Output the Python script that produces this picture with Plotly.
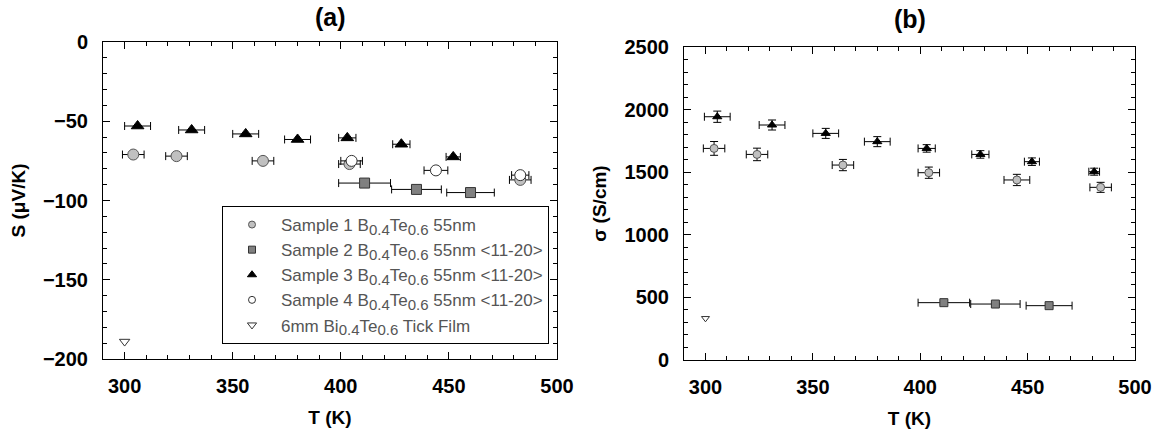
import plotly.graph_objects as go

# ---------- data: panel (a) Seebeck coefficient ----------
a1_T = [304, 324, 364, 404, 483]
a1_S = [-71, -72, -75, -77, -87]
a1_Terr = [5, 5, 5, 5, 5]

a2_T = [411, 435, 460]
a2_S = [-89, -93, -95]
a2_Terr = [12, 11.5, 11]

a3_T = [306, 331, 356, 380, 403, 428, 452]
a3_S = [-53, -55.5, -58, -61.5, -60.5, -64.5, -72.5]
a3_Terr = [6, 6, 6, 6, 4, 4, 3.3]

a4_T = [405, 444, 483]
a4_S = [-75, -81, -84]
a4_Terr = [5, 5.5, 4]

a5_T = [300]
a5_S = [-189]

# ---------- data: panel (b) electrical conductivity ----------
b1_T = [304, 324, 364, 404, 445, 484]
b1_sig = [1690, 1642, 1557, 1496, 1438, 1379]
b1_Terr = [5, 5, 5, 5, 6, 5]
b1_err = [55, 50, 45, 45, 45, 40]

b2_T = [411, 435, 460]
b2_sig = [458, 447, 434]
b2_Terr = [12, 11.5, 10.7]
b2_err = [15, 15, 15]

b3_T = [305.5, 331, 356, 380, 403, 428, 452, 481]
b3_sig = [1943, 1877, 1810, 1744, 1690, 1642, 1584, 1504]
b3_Terr = [6, 6, 6, 6, 4, 4, 3.5, 2.5]
b3_err = [45, 40, 40, 40, 30, 30, 30, 28]

b5_T = [300]
b5_sig = [333]

S = '<sub><span style="font-size:15px">'
E = '</span></sub>'
names = [
    f"Sample 1 B{S}0.4{E}Te{S}0.6{E} 55nm",
    f"Sample 2 B{S}0.4{E}Te{S}0.6{E} 55nm &lt;11-20&gt;",
    f"Sample 3 B{S}0.4{E}Te{S}0.6{E} 55nm &lt;11-20&gt;",
    f"Sample 4 B{S}0.4{E}Te{S}0.6{E} 55nm &lt;11-20&gt;",
    f"6mm Bi{S}0.4{E}Te{S}0.6{E} Tick Film",
]

def ex(arr):
    return dict(type="data", array=arr, visible=True, color="black", thickness=1, width=4)

def ey(arr):
    return dict(type="data", array=arr, visible=True, color="black", thickness=1, width=4)

m1 = dict(symbol="circle", color="#c0c0c0", line=dict(color="#555555", width=1))
m2 = dict(symbol="square", color="#808080", line=dict(color="#333333", width=1))
m3 = dict(symbol="triangle-up", color="black", line=dict(color="black", width=1))
m4 = dict(symbol="circle", color="white", line=dict(color="#333333", width=1))
m5 = dict(symbol="triangle-down-open", color="#333333", line=dict(width=1))

fig = go.Figure()

# panel (a)
fig.add_trace(go.Scatter(x=a1_T, y=a1_S, mode="markers", showlegend=False, error_x=ex(a1_Terr),
                         marker=dict(size=11, **m1), xaxis="x", yaxis="y"))
fig.add_trace(go.Scatter(x=a2_T, y=a2_S, mode="markers", showlegend=False, error_x=ex(a2_Terr),
                         marker=dict(size=10, **m2), xaxis="x", yaxis="y"))
fig.add_trace(go.Scatter(x=a3_T, y=a3_S, mode="markers", showlegend=False, error_x=ex(a3_Terr),
                         marker=dict(size=11, **m3), xaxis="x", yaxis="y"))
fig.add_trace(go.Scatter(x=a4_T, y=a4_S, mode="markers", showlegend=False, error_x=ex(a4_Terr),
                         marker=dict(size=11, **m4), xaxis="x", yaxis="y"))
fig.add_trace(go.Scatter(x=a5_T, y=a5_S, mode="markers", showlegend=False,
                         marker=dict(size=9, **m5), xaxis="x", yaxis="y"))

# legend entries (small symbols, as in the reference legend)
for i, (nm, mk, sz) in enumerate(zip(names, [m1, m2, m3, m4, m5], [7, 7, 8, 7, 8])):
    fig.add_trace(go.Scatter(x=[None], y=[None], mode="markers", name=nm,
                             legendgroup=str(i), marker=dict(size=sz, **mk),
                             xaxis="x", yaxis="y"))

# panel (b)
fig.add_trace(go.Scatter(x=b1_T, y=b1_sig, mode="markers", showlegend=False,
                         error_x=ex(b1_Terr), error_y=ey(b1_err),
                         marker=dict(size=8, **m1), xaxis="x2", yaxis="y2"))
fig.add_trace(go.Scatter(x=b2_T, y=b2_sig, mode="markers", showlegend=False,
                         error_x=ex(b2_Terr), error_y=ey(b2_err),
                         marker=dict(size=8, **m2), xaxis="x2", yaxis="y2"))
fig.add_trace(go.Scatter(x=b3_T, y=b3_sig, mode="markers", showlegend=False,
                         error_x=ex(b3_Terr), error_y=ey(b3_err),
                         marker=dict(size=8, **m3), xaxis="x2", yaxis="y2"))
fig.add_trace(go.Scatter(x=b5_T, y=b5_sig, mode="markers", showlegend=False,
                         marker=dict(size=7, **m5), xaxis="x2", yaxis="y2"))

W, H = 1158, 438
FONT = "Liberation Sans, Arial"
tickfont = dict(family=FONT, size=20, color="black", weight="bold")
titlefont = dict(family=FONT, size=19, color="black", weight="bold")

def xaxis(dom, anchor):
    return dict(domain=dom, anchor=anchor, range=[290, 500], tickmode="array",
                tickvals=[300, 350, 400, 450, 500], ticks="inside", ticklen=7,
                tickcolor="black", showline=True, linecolor="black", linewidth=1,
                mirror="allticks", showgrid=False, zeroline=False, tickfont=tickfont,
                automargin=False, ticklabelstandoff=9,
                minor=dict(dtick=10, tick0=300, ticks="inside", ticklen=4, tickcolor="black",
                           showgrid=False),
                title=dict(text="T (K)", font=titlefont, standoff=14))

def yaxis(dom, anchor, rng, dtick, mdt, title):
    return dict(domain=dom, anchor=anchor, range=rng, dtick=dtick, tick0=0, ticks="inside",
                ticklen=7, tickcolor="black", showline=True, linecolor="black", linewidth=1,
                mirror="allticks", showgrid=False, zeroline=False, tickfont=tickfont,
                automargin=False, ticklabelstandoff=10,
                minor=dict(dtick=mdt, ticks="inside", ticklen=4, tickcolor="black",
                           showgrid=False),
                title=dict(text=title, font=titlefont, standoff=12))

fig.update_layout(
    width=W, height=H,
    margin=dict(l=0, r=0, t=0, b=0),
    paper_bgcolor="white", plot_bgcolor="white",
    xaxis=xaxis([103 / W, 557 / W], "y"),
    yaxis=yaxis([1 - 359 / H, 1 - 42 / H], "x", [-200, 0], 50, 10, "S (\u03bcV/K)"),
    xaxis2=xaxis([684 / W, 1135 / W], "y2"),
    yaxis2=yaxis([1 - 360 / H, 1 - 47 / H], "x2", [0, 2500], 500, 100, "\u03c3 (S/cm)"),
    legend=dict(x=222 / W, y=1 - 206 / H, xanchor="left", yanchor="top",
                bordercolor="black", borderwidth=1, bgcolor="white",
                font=dict(family=FONT, size=17, color="#555555"),
                tracegroupgap=8, traceorder="normal", itemwidth=48),
    annotations=[
        dict(text="(a)", x=(103 + 557) / 2 / W, y=1 - 17 / H, xref="paper", yref="paper",
             xanchor="center", yanchor="middle", showarrow=False,
             font=dict(family=FONT, size=25, color="black", weight="bold")),
        dict(text="(b)", x=(684 + 1135) / 2 / W, y=1 - 19 / H, xref="paper", yref="paper",
             xanchor="center", yanchor="middle", showarrow=False,
             font=dict(family=FONT, size=25, color="black", weight="bold")),
    ],
)

fig.write_html("out.html")
